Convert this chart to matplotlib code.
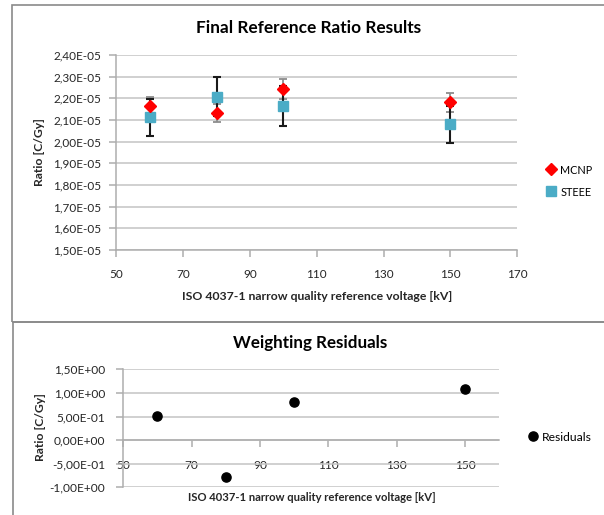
import numpy as np
import matplotlib
matplotlib.use('Agg')
import matplotlib.pyplot as plt
from matplotlib.patches import Rectangle
from matplotlib.ticker import FuncFormatter

plt.rcParams['font.family'] = ['Lato', 'DejaVu Sans']

# ---------------- data ----------------
voltages = [60, 80, 100, 150]
mcnp = [2.165e-5, 2.132e-5, 2.243e-5, 2.182e-5]
mcnp_err = [0.040e-5, 0.041e-5, 0.045e-5, 0.044e-5]
steee = [2.112e-5, 2.208e-5, 2.165e-5, 2.080e-5]
steee_err = [0.087e-5, 0.089e-5, 0.091e-5, 0.085e-5]
residuals = [0.52, -0.79, 0.81, 1.09]

title_top = "Final Reference Ratio Results"
title_bottom = "Weighting Residuals"
xlabel = "ISO 4037-1 narrow quality reference voltage [kV]"
ylabel = "Ratio [C/Gy]"

W, H = 604, 515
fig = plt.figure(figsize=(W / 100, H / 100), dpi=100)


def box(x0, y0, x1, y1):
    return [x0 / W, 1 - y1 / H, (x1 - x0) / W, (y1 - y0) / H]


def fx(x):
    return x / W


def fy(y):
    return 1 - y / H


GRID = '#C4C4C4'
AXC = '#ADADAD'
TXT = '#262626'

# chart frames
fig.add_artist(Rectangle((fx(12), fy(321.7)), (640 - 12) / W, (321.7 - 5) / H,
                         transform=fig.transFigure, fill=False, ec='#8A8A8A', lw=1.2))
fig.add_artist(Rectangle((fx(12.7), fy(540)), (640 - 12.7) / W, (540 - 321.7) / H,
                         transform=fig.transFigure, fill=False, ec='#8A8A8A', lw=1.2))

fmt = FuncFormatter(lambda v, p: f"{v:.2E}".replace('.', ','))

# ---------------- top chart ----------------
ax1 = fig.add_axes(box(116.3, 55, 517.3, 250))
ax1.set_xlim(50, 170)
ax1.set_ylim(1.5e-5, 2.4e-5)
ax1.set_xticks(range(50, 171, 20))
ax1.set_yticks([i * 1e-6 for i in range(15, 25)])
ax1.yaxis.set_major_formatter(fmt)
ax1.set_axisbelow(True)
ax1.yaxis.grid(True, color=GRID, lw=1.1)
for s in ('top', 'right'):
    ax1.spines[s].set_visible(False)
for s in ('left', 'bottom'):
    ax1.spines[s].set_color(AXC)
    ax1.spines[s].set_linewidth(1.1)
ax1.tick_params(direction='out', length=5, width=1.1, color=AXC, labelcolor=TXT)
ax1.tick_params(axis='y', pad=6)
ax1.tick_params(axis='x', pad=9)

ax1.errorbar(voltages, mcnp, yerr=mcnp_err, fmt='none', ecolor='#8C8C8C',
             elinewidth=1.3, capsize=3, capthick=1.3, zorder=3)
ax1.errorbar(voltages, steee, yerr=steee_err, fmt='none', ecolor='#1A1A1A',
             elinewidth=1.5, capsize=3, capthick=1.5, zorder=3)
ax1.plot(voltages, mcnp, ls='none', marker='D', ms=6.0, color='#FF0000',
         mec='#FF0000', zorder=5, label='MCNP')
ax1.plot(voltages, steee, ls='none', marker='s', ms=6.8, color='#4BACC6',
         mec='#4BACC6', zorder=4, label='STEEE')

leg1 = ax1.legend(loc='center left', bbox_to_anchor=(fx(547), fy(181)),
                  bbox_transform=fig.transFigure, frameon=False,
                  handlelength=0.6, handletextpad=0.35, labelspacing=0.75,
                  borderaxespad=0, borderpad=0, fontsize=10)

# ---------------- bottom chart ----------------
ax2 = fig.add_axes(box(123.3, 369.3, 499.3, 487.3))
ax2.set_xlim(50, 160)
ax2.set_ylim(-1.0, 1.5)
ax2.set_xticks(range(50, 151, 20))
ax2.set_yticks([-1.0, -0.5, 0.0, 0.5, 1.0, 1.5])
ax2.yaxis.set_major_formatter(fmt)
ax2.set_axisbelow(True)
ax2.yaxis.grid(True, color=GRID, lw=1.1)
for s in ('top', 'right'):
    ax2.spines[s].set_visible(False)
ax2.spines['bottom'].set_position(('data', 0))
for s in ('left', 'bottom'):
    ax2.spines[s].set_color(AXC)
    ax2.spines[s].set_linewidth(1.1)
ax2.tick_params(direction='out', length=5, width=1.1, color=AXC, labelcolor=TXT)
ax2.tick_params(axis='y', pad=8)
ax2.tick_params(axis='x', pad=9)

ax2.plot(voltages, residuals, ls='none', marker='o', ms=6.6, color='black',
         zorder=4, label='Residuals')
leg2 = ax2.legend(loc='center left', bbox_to_anchor=(fx(529), fy(437.3)),
                  bbox_transform=fig.transFigure, frameon=False,
                  handlelength=0.6, handletextpad=0.35,
                  borderaxespad=0, borderpad=0, fontsize=10)

# ---------------- texts ----------------
t1 = fig.text(fx(309), fy(28.3), title_top, ha='center', va='center',
              weight='bold', fontsize=13, color='black')
t2 = fig.text(fx(310), fy(343.3), title_bottom, ha='center', va='center',
              weight='bold', fontsize=13, color='black')
xl1 = fig.text(fx(316.8), fy(296.7), xlabel, ha='center', va='center',
               weight='bold', fontsize=10, color=TXT)
xl2 = fig.text(fx(312), fy(497.5), xlabel, ha='center', va='center',
               weight='bold', fontsize=9, color=TXT)
yl1 = fig.text(fx(39.5), fy(152.5), ylabel, ha='center', va='center',
               rotation=90, weight='bold', fontsize=10, color=TXT)
yl2 = fig.text(fx(40.7), fy(427), ylabel, ha='center', va='center',
               rotation=90, weight='bold', fontsize=10, color=TXT)

# ---------------- fit font sizes to the reference text widths ----------------
fig.canvas.draw()
r = fig.canvas.get_renderer()


def fit(t, target, vertical=False):
    bb = t.get_window_extent(r)
    w = bb.height if vertical else bb.width
    t.set_fontsize(t.get_fontsize() * target / w)


fit(t1, 225)
fit(t2, 155)
fit(xl1, 271)
fit(xl2, 250)
fit(yl1, 68, vertical=True)
fit(yl2, 68, vertical=True)

lab = ax1.get_yticklabels()[-1]
s1 = lab.get_fontsize() * 48 / lab.get_window_extent(r).width
ax1.tick_params(labelsize=s1)
lab = ax2.get_yticklabels()[-1]
s2 = lab.get_fontsize() * 51 / lab.get_window_extent(r).width
ax2.tick_params(labelsize=s2)

lt = leg1.get_texts()[0]
sl = lt.get_fontsize() * 32 / lt.get_window_extent(r).width
for t in leg1.get_texts():
    t.set_fontsize(sl)
lt = leg2.get_texts()[0]
sl2 = lt.get_fontsize() * 50 / lt.get_window_extent(r).width
for t in leg2.get_texts():
    t.set_fontsize(sl2)

fig.savefig('out.png', dpi=100)
